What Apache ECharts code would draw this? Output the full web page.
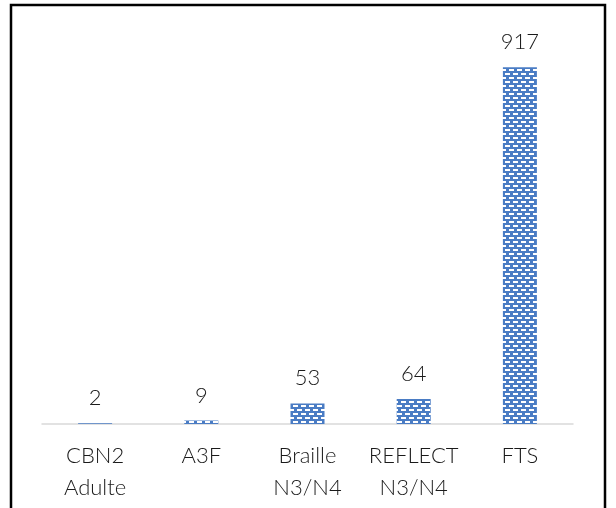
<!DOCTYPE html>
<html>
<head>
<meta charset="utf-8">
<script src="https://cdn.jsdelivr.net/npm/echarts@6/dist/echarts.min.js"></script>
<style>
  html, body { margin: 0; padding: 0; background: #fff; }
  #chart { width: 616px; height: 508px; }
</style>
</head>
<body>
<div id="chart"></div>
<script>
const categories = ['CBN2\nAdulte', 'A3F', 'Braille\nN3/N4', 'REFLECT\nN3/N4', 'FTS'];
const values = [2, 9, 53, 64, 917];

// brick-like white dash pattern on blue, like the Excel fill
function makePattern() {
  const c = document.createElement('canvas');
  c.width = 8;
  c.height = 8;
  const ctx = c.getContext('2d');
  ctx.fillStyle = '#4a7cc4';
  ctx.fillRect(0, 0, 8, 8);
  ctx.fillStyle = '#ffffff';
  ctx.fillRect(1, 1, 5, 2);
  ctx.fillRect(5, 5, 3, 2);
  ctx.fillRect(0, 5, 2, 2);
  return c;
}

const font = 'Lato, sans-serif';
const chart = echarts.init(document.getElementById('chart'));

chart.setOption({
  animation: false,
  grid: { left: 42, right: 43, top: 35, bottom: 84 },
  graphic: [
    {
      type: 'rect',
      shape: { x: 11, y: 5, width: 594, height: 520 },
      style: { fill: 'none', stroke: '#000', lineWidth: 2.5 },
    },
  ],
  xAxis: {
    type: 'category',
    data: categories,
    axisLine: { lineStyle: { color: '#d9d9d9', width: 1.5 } },
    axisTick: { show: false },
    axisLabel: {
      color: '#1a1a1a',
      fontSize: 22,
      fontFamily: font,
      fontWeight: 300,
      lineHeight: 32,
      margin: 16,
      interval: 0,
    },
  },
  yAxis: {
    type: 'value',
    min: 0,
    max: 1000,
    show: false,
  },
  series: [
    {
      type: 'bar',
      data: values,
      barWidth: 34,
      itemStyle: { color: { image: makePattern(), repeat: 'repeat' } },
      label: {
        show: true,
        position: 'top',
        distance: 14,
        color: '#1a1a1a',
        fontSize: 22,
        fontFamily: font,
        fontWeight: 300,
      },
    },
  ],
});
</script>
</body>
</html>
